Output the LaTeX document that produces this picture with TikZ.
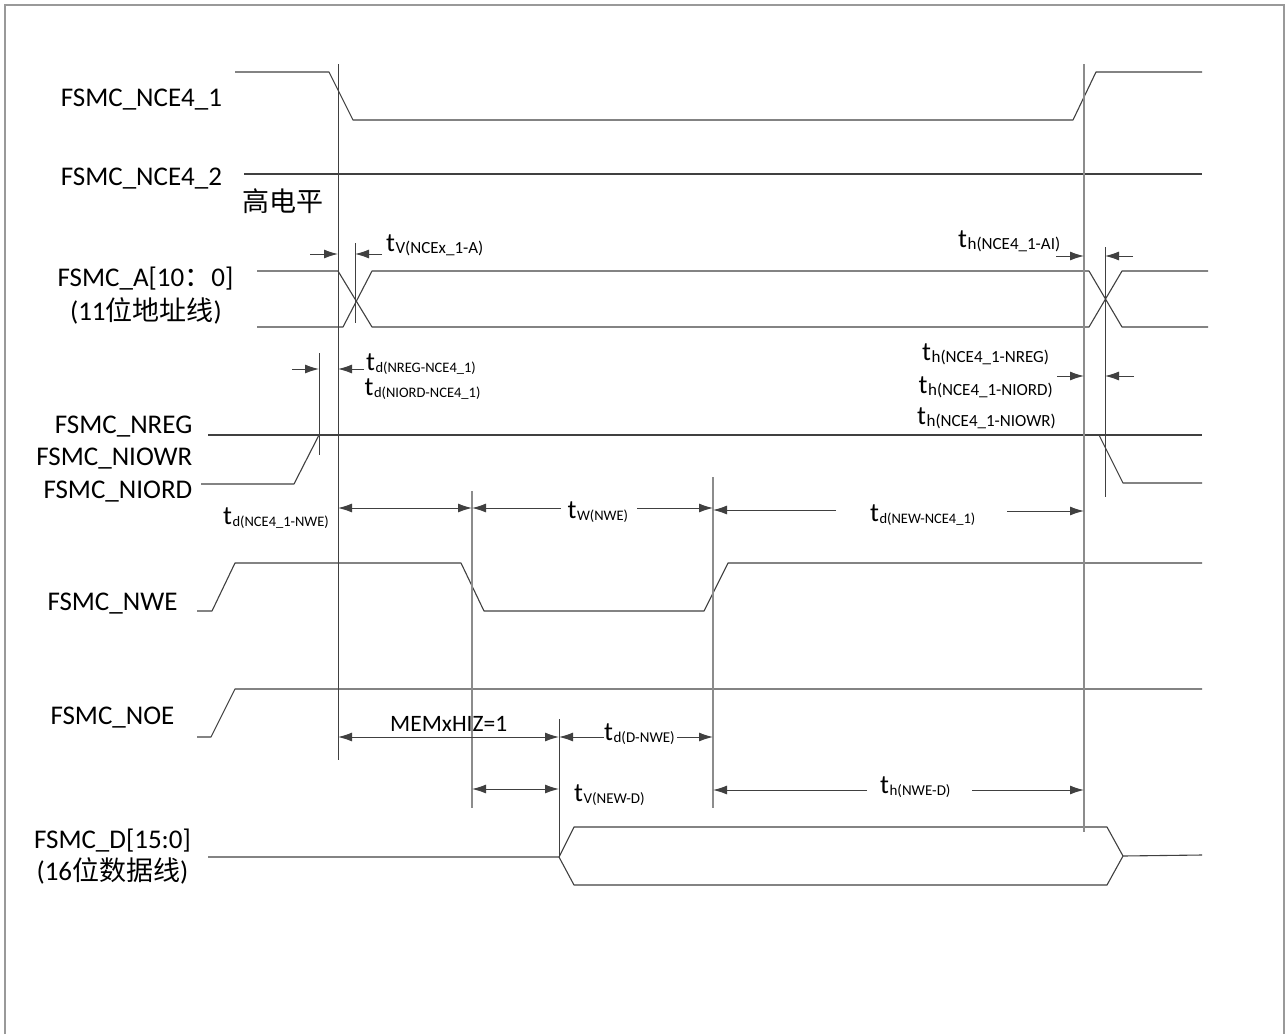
\documentclass[tikz,border=0pt]{standalone}
\usepackage{fontspec}
\setmainfont{Carlito}
\newfontfamily\cjk{Noto Sans CJK SC}
\usetikzlibrary{arrows.meta,calc}
\tikzset{>={Latex[length=14pt,width=9pt]},
    sig/.style={draw=black!75, line width=1.1pt, line join=round},
    tickline/.style={draw=black!75, line width=1pt},
    greyline/.style={draw=black!45, line width=1.8pt},
    dim/.style={draw=black!75, line width=1pt},
    siglabel/.style={font=\fontsize{27}{31}\selectfont, inner sep=0pt},
    tlabel/.style={font=\fontsize{26.5}{30}\selectfont, inner sep=0pt, anchor=base west}}
\newcommand{\tsub}[2][14.5]{t\kern0.5pt\raisebox{-2pt}{\fontsize{#1}{#1}\selectfont #2}}

\begin{document}
\begin{tikzpicture}[x=1pt,y=-1pt]
    \useasboundingbox (0,0) rectangle (1288,1034);
    \draw[draw=black!40, line width=2pt] (5,1034) -- (5,5) -- (1284,5) -- (1284,1034);

    \node[siglabel, anchor=base] (nce1) at (141.5,106) {FSMC\_NCE4\_1};
    \node[siglabel, anchor=base] (nce2) at (141.5,185) {FSMC\_NCE4\_2};
    \node[siglabel] (high) at (283,201) {\cjk 高电平};
    \node[siglabel, anchor=base] (addr) at (145.5,286) {FSMC\_A[10{\cjk ：}0]};
    \node[siglabel, anchor=base] (addrcn) at (146,320) {(11{\cjk 位地址线})};
    \node[siglabel, anchor=base east] (nreg) at (192.5,433) {FSMC\_NREG};
    \node[siglabel, anchor=base east] (niowr) at (192.5,465) {FSMC\_NIOWR};
    \node[siglabel, anchor=base east] (niord) at (192.5,498) {FSMC\_NIORD};
    \node[siglabel, anchor=base] (nwe) at (112.5,610) {FSMC\_NWE};
    \node[siglabel, anchor=base] (noe) at (112.5,724) {FSMC\_NOE};
    \node[siglabel, anchor=base] (data) at (112.5,848) {FSMC\_D[15:0]};
    \node[siglabel, anchor=base] (datacn) at (112.5,880) {(16{\cjk 位数据线})};

    \draw[sig] (235,72) -- (329,72) -- (353,120) -- (1073,120) -- (1096,72) -- (1202,72);
    \draw[sig] (244,174) -- (1202,174);
    \draw[sig] (257,271) -- (338,271) -- (372,327) -- (1089,327) -- (1122,271) -- (1208,271);
    \draw[sig] (257,327) -- (343,327) -- (372,271) -- (1089,271) -- (1122,327) -- (1208,327);
    \draw[sig] (208,435) -- (1202,435);
    \draw[sig] (201,484) -- (294,484) -- (319,435);
    \draw[sig] (1099,435) -- (1123,483) -- (1202,483);
    \draw[sig] (197,611) -- (212,611) -- (235,563) -- (461,563) -- (484,611) -- (704,611) -- (728,563) -- (1202,563);
    \draw[sig] (197,737) -- (211,737) -- (235,689) -- (1202,689);
    \draw[sig] (208,857) -- (559,857) -- (574,827) -- (1107,827) -- (1123,856) -- (1202,855);
    \draw[sig] (559,857) -- (574,885) -- (1107,885) -- (1123,856);

    \draw[tickline] (338,64) -- (338,760);
    \draw[tickline] (355,243) -- (355,323);
    \draw[tickline] (319,353) -- (319,455);
    \draw[tickline] (1105,247) -- (1105,497);
    \draw[tickline] (559,719) -- (559,857);
    \draw[greyline] (472,491) -- (472,808);
    \draw[greyline] (713,477) -- (713,808);
    \draw[greyline] (1084,64) -- (1084,832);

    \draw[dim,->] (310,254) -- (338,254);
    \draw[dim,->] (382,254) -- (355,254);
    \draw[dim,->] (292,369) -- (319,369);
    \draw[dim,->] (364,369) -- (338,369);
    \draw[dim,->] (1056,256) -- (1084,256);
    \draw[dim,->] (1133,256) -- (1105,256);
    \draw[dim,->] (1057,376) -- (1084,376);
    \draw[dim,->] (1134,376) -- (1105,376);
    \draw[dim,<->] (338,508) -- (472,508);
    \draw[dim,->] (561,508) -- (472,508);
    \draw[dim,->] (637,508) -- (713,508);
    \draw[dim,->] (836,510) -- (713,510);
    \draw[dim,->] (1007,511) -- (1084,511);
    \draw[dim,<->] (338,737) -- (559,737);
    \draw[dim,->] (604,737) -- (559,737);
    \draw[dim,->] (677,737) -- (713,737);
    \draw[dim,<->] (472,789) -- (559,789);
    \draw[dim,->] (867,790) -- (713,790);
    \draw[dim,->] (972,790) -- (1084,790);

    \node[tlabel] (tva) at (386,251) {\tsub[17]{V(NCEx\_1-A)}};
    \node[tlabel] (tha) at (958,247) {\tsub[17]{h(NCE4\_1-AI)}};
    \node[tlabel] (thr) at (922,360) {\tsub[17]{h(NCE4\_1-NREG)}};
    \node[tlabel] (tho) at (918.5,393) {\tsub[17]{h(NCE4\_1-NIORD)}};
    \node[tlabel] (thw) at (917,424) {\tsub[17]{h(NCE4\_1-NIOWR)}};
    \node[tlabel] (tdr) at (366,370) {\tsub{d(NREG-NCE4\_1)}};
    \node[tlabel] (tdo) at (364.5,395) {\tsub{d(NIORD-NCE4\_1)}};
    \node[tlabel] (tdw) at (223,524) {\tsub{d(NCE4\_1-NWE)}};
    \node[tlabel] (tww) at (567.5,518) {\tsub{W(NWE)}};
    \node[tlabel] (tdn) at (870,521) {\tsub{d(NEW-NCE4\_1)}};
    \node[tlabel, font=\fontsize{23.5}{26}\selectfont] (hiz) at (390,731.5) {MEMxHIZ=1};
    \node[tlabel] (tdd) at (604,740) {\tsub[15]{d(D-NWE)}};
    \node[tlabel] (tvd) at (574,801) {\tsub[15]{V(NEW-D)}};
    \node[tlabel] (thd) at (880,793) {\tsub[15]{h(NWE-D)}};
\end{tikzpicture}
\end{document}
